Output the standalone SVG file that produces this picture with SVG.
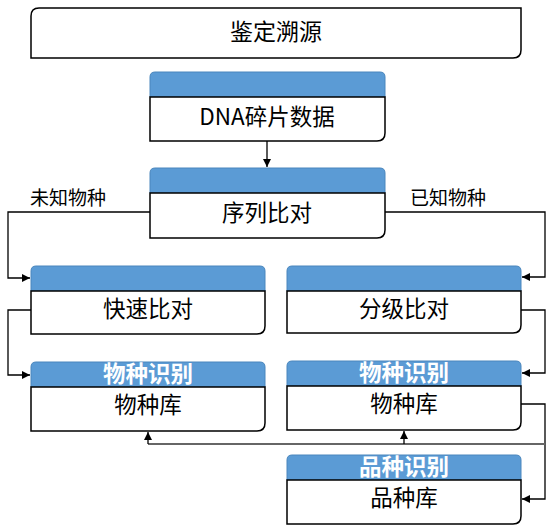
<svg xmlns="http://www.w3.org/2000/svg" width="556" height="526" viewBox="0 0 556 526">
<defs>
<marker id="ah" viewBox="0 0 10 10" refX="10" refY="5" markerWidth="8" markerHeight="8" markerUnits="userSpaceOnUse" orient="auto">
<path d="M0,0 L10,5 L0,10 Z" fill="#000"/>
</marker>
<style>
.hd{fill:#5b9bd5;stroke:#4a86bd;stroke-width:1}
.bd{fill:#fff;stroke:#000;stroke-width:1.5}
.t{font-family:"Noto Sans CJK SC","Noto Sans",sans-serif;font-size:22.5px;fill:#000;text-anchor:middle;dominant-baseline:central}
.ht{font-family:"Noto Sans CJK SC","Noto Sans",sans-serif;font-size:22.5px;font-weight:bold;fill:#fff;text-anchor:middle;dominant-baseline:central}
.lb{font-family:"Noto Sans CJK SC","Noto Sans",sans-serif;font-size:19px;fill:#000;dominant-baseline:central}
.c{fill:none;stroke:#000;stroke-width:1.3}
.g{fill:none;stroke:#666;stroke-width:2}
</style>
</defs>
<rect width="556" height="526" fill="#fff"/>
<g id="n-top">
<path class="bd" d="M31,58 V16 Q31,8 39,8 H521 V50 Q521,58 513,58 Z"/>
<text class="t" x="276" y="30" style="font-size:23px">鉴定溯源</text>
</g>
<g id="n-dna">
<path class="hd" d="M150,97 V77 Q150,72 155,72 H380 Q385,72 385,77 V97 Z"/>
<path class="bd" d="M150,97 H385 V133 Q385,141 377,141 H150 Z"/>
<text class="t" x="267" y="115">DNA碎片数据</text>
</g>
<g id="n-seq">
<path class="hd" d="M150,193 V173 Q150,168 155,168 H380 Q385,168 385,173 V193 Z"/>
<path class="bd" d="M150,193 H385 V230 Q385,238 377,238 H150 Z"/>
<text class="t" x="267" y="211">序列比对</text>
</g>
<g id="n-fast">
<path class="hd" d="M31,291 V271 Q31,266 36,266 H260 Q265,266 265,271 V291 Z"/>
<path class="bd" d="M31,291 H265 V326 Q265,334 257,334 H31 Z"/>
<text class="t" x="148" y="307">快速比对</text>
</g>
<g id="n-grade">
<path class="hd" d="M287,291 V271 Q287,266 292,266 H516 Q521,266 521,271 V291 Z"/>
<path class="bd" d="M287,291 H521 V325 Q521,333 513,333 H287 Z"/>
<text class="t" x="404" y="307">分级比对</text>
</g>
<g id="n-species-l">
<path class="hd" d="M31,387 V367 Q31,362 36,362 H260 Q265,362 265,367 V387 Z"/>
<path class="bd" d="M31,387 H265 V423 Q265,431 257,431 H31 Z"/>
<text class="ht" x="148" y="372">物种识别</text>
<text class="t" x="148" y="403">物种库</text>
</g>
<g id="n-species-r">
<path class="hd" d="M287,386 V366 Q287,361 292,361 H516 Q521,361 521,366 V386 Z"/>
<path class="bd" d="M287,386 H521 V422 Q521,430 513,430 H287 Z"/>
<text class="ht" x="404" y="371">物种识别</text>
<text class="t" x="404" y="402">物种库</text>
</g>
<g id="n-variety">
<path class="hd" d="M287,480 V460 Q287,455 292,455 H516 Q521,455 521,460 V480 Z"/>
<path class="bd" d="M287,480 H521 V516 Q521,524 513,524 H287 Z"/>
<text class="ht" x="404" y="465">品种识别</text>
<text class="t" x="404" y="496">品种库</text>
</g>
<g id="connectors">
<path class="c" d="M267,141 V167" marker-end="url(#ah)"/>
<path class="c" d="M150,212 H8 V278 H30" marker-end="url(#ah)"/>
<path class="c" d="M385,212 H545 V277 H522" marker-end="url(#ah)"/>
<path class="c" d="M31,310 H8 V375 H30" marker-end="url(#ah)"/>
<path class="c" d="M521,310 H545 V373 H522" marker-end="url(#ah)"/>
<path class="c" d="M521,404 H545 V499 H522" marker-end="url(#ah)"/>
<path class="g" d="M545,444 H148"/>
<path class="c" d="M148,444 V432" marker-end="url(#ah)"/>
<path class="c" d="M404,444 V431" marker-end="url(#ah)"/>
<text class="lb" x="30" y="196">未知物种</text>
<text class="lb" x="410" y="196">已知物种</text>
</g>
</svg>
